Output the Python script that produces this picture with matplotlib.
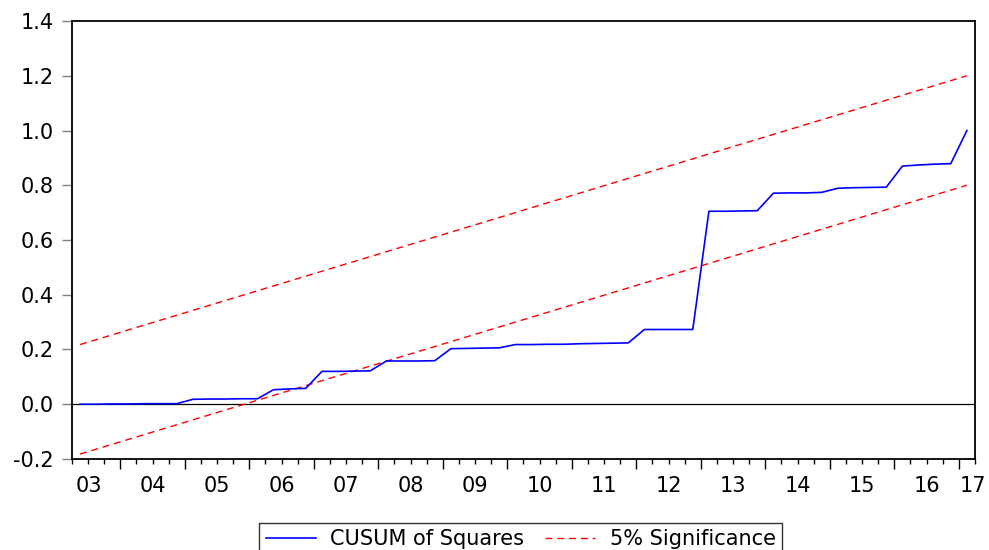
import matplotlib
matplotlib.use("Agg")
from matplotlib import pyplot as plt
import numpy as np

plt.rcParams['font.family'] = ['DejaVu Sans']

# quarterly sample 2003Q2 .. 2017Q1 (56 obs)
cusum_sq = [0.000, 0.000, 0.001, 0.001, 0.002, 0.002, 0.002, 0.018,
            0.019, 0.019, 0.020, 0.020, 0.053, 0.056, 0.058, 0.120,
            0.120, 0.121, 0.122, 0.158, 0.158, 0.158, 0.159, 0.203,
            0.204, 0.205, 0.206, 0.218, 0.218, 0.219, 0.219, 0.221,
            0.222, 0.223, 0.224, 0.273, 0.273, 0.273, 0.273, 0.705,
            0.705, 0.706, 0.707, 0.771, 0.772, 0.772, 0.774, 0.789,
            0.791, 0.792, 0.793, 0.870, 0.874, 0.877, 0.879, 1.000]

# straight 5% bands, read at first and last observation
upper_band = [0.218, 1.200]
lower_band = [-0.182, 0.800]

year_labels = ['03', '04', '05', '06', '07', '08', '09', '10',
               '11', '12', '13', '14', '15', '16', '17']
y_ticks = [-0.2, 0.0, 0.2, 0.4, 0.6, 0.8, 1.0, 1.2, 1.4]

n = len(cusum_sq)
x = np.arange(n)
fs = 15

fig = plt.figure(figsize=(9.89, 5.5), dpi=100)
ax = fig.add_axes([0.0728, 0.1655, 0.913, 0.7963])

ax.axhline(0, color='black', lw=0.9, zorder=1)
ax.plot(x, cusum_sq, color='#0000ff', lw=1.2, label='CUSUM of Squares', zorder=3)
ax.plot([x[0], x[-1]], upper_band, color='#ff0000', lw=1.0, dashes=(5, 3.5),
        label='5% Significance', zorder=2)
ax.plot([x[0], x[-1]], lower_band, color='#ff0000', lw=1.0, dashes=(5, 3.5), zorder=2)

ax.set_xlim(-0.5, n - 0.5)
ax.set_ylim(-0.2, 1.4)

ax.set_yticks(y_ticks)
ax.set_yticklabels([f'{v:.1f}' for v in y_ticks])
ax.tick_params(axis='y', direction='out', length=7, width=1, color='#808080',
               pad=6, labelsize=fs)

# quarter boundaries as small ticks, year boundaries as long ticks
ax.set_xticks(np.arange(2.5, n - 0.5, 4))
ax.set_xticks(np.arange(-0.5, n, 1), minor=True)
ax.set_xticklabels([])
ax.tick_params(axis='x', which='major', direction='out', length=7.5, width=1, color='black')
ax.tick_params(axis='x', which='minor', direction='out', length=3.5, width=1, color='black')

label_pos = [0.55] + [4.5 + 4 * k for k in range(len(year_labels) - 2)] + [55.4]
for pos, lab in zip(label_pos, year_labels):
    ax.text(pos, -0.04, lab, transform=ax.get_xaxis_transform(),
            ha='center', va='top', fontsize=fs)

for s in ax.spines.values():
    s.set_linewidth(1.3)
    s.set_color('black')

leg = fig.legend(loc='upper center', bbox_to_anchor=(0.5263, 0.0491), ncol=2,
                 fontsize=fs, frameon=True, fancybox=False, edgecolor='black',
                 handlelength=2.4, handletextpad=0.7, columnspacing=1.0,
                 borderpad=0.3, borderaxespad=0)
leg.get_frame().set_linewidth(1.0)

fig.savefig('out.png', dpi=100)
